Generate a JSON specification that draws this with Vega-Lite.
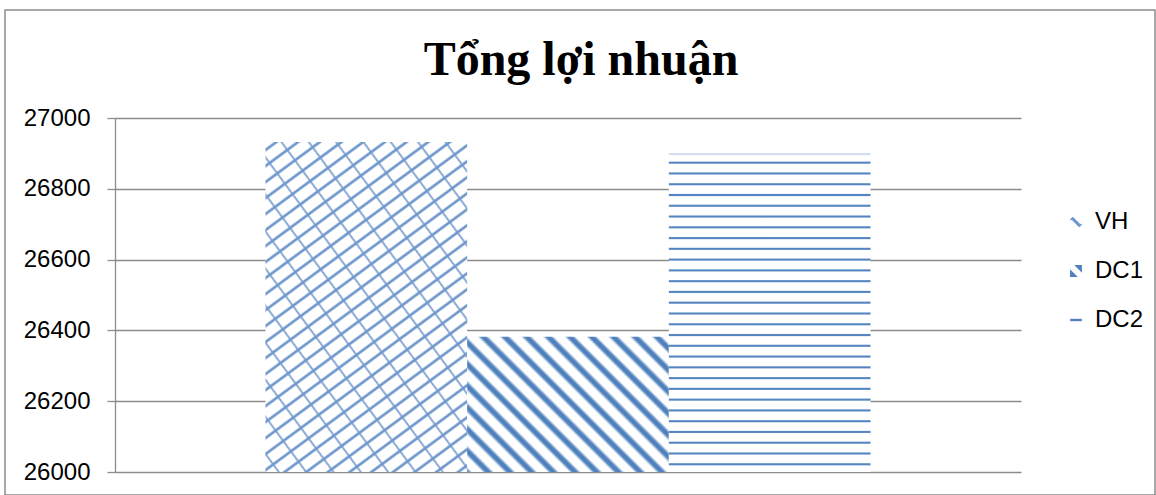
{
  "$schema": "https://vega.github.io/schema/vega-lite/v6.json",
  "autosize": {"type": "none"},
  "padding": {"left": 5, "top": 10, "right": 1, "bottom": 0},
  "width": 1150,
  "height": 485,
  "background": "#ffffff",
  "title": {
    "text": "Tổng lợi nhuận",
    "font": "Liberation Serif",
    "fontSize": 48,
    "fontWeight": "bold",
    "color": "#000000",
    "anchor": "middle",
    "frame": "group",
    "baseline": "alphabetic",
    "offset": -113,
    "dx": 1
  },
  "data": {
    "values": [
      {"series": "VH", "value": 26932},
      {"series": "DC1", "value": 26382},
      {"series": "DC2", "value": 26900}
    ]
  },
  "encoding": {
    "x": {
      "field": "series",
      "type": "nominal",
      "sort": ["VH", "DC1", "DC2"],
      "scale": {"range": [110, 1016], "paddingInner": 0, "paddingOuter": 0.746},
      "axis": null
    },
    "y": {
      "field": "value",
      "type": "quantitative",
      "scale": {"domain": [26000, 27000], "range": [462, 108], "nice": false, "zero": false},
      "axis": {
        "title": null,
        "values": [26000, 26200, 26400, 26600, 26800, 27000],
        "format": "d",
        "offset": -110,
        "domainColor": "#8c8c8c",
        "domainWidth": 1.3,
        "tickColor": "#8c8c8c",
        "tickWidth": 1.3,
        "tickSize": 8,
        "labelPadding": 17,
        "labelFont": "Liberation Sans",
        "labelFontSize": 24,
        "labelColor": "#000000",
        "grid": true,
        "gridColor": "#8c8c8c",
        "gridWidth": 1.4
      }
    }
  },
  "layer": [
    {
      "transform": [{"filter": "datum.series === 'VH'"}],
      "mark": {
        "type": "bar",
        "strokeWidth": 0,
        "fill": {
          "gradient": "linear", "x1": 0, "y1": 0, "x2": 0.5437, "y2": 1.2057,
          "stops": [
            {"offset": 0, "color": "#ffffff"},
            {"offset": 0.0112, "color": "#ffffff"}, {"offset": 0.0152, "color": "#7098cc"}, {"offset": 0.0182, "color": "#7098cc"}, {"offset": 0.0222, "color": "#ffffff"},
            {"offset": 0.0446, "color": "#ffffff"}, {"offset": 0.0486, "color": "#7098cc"}, {"offset": 0.0516, "color": "#7098cc"}, {"offset": 0.0556, "color": "#ffffff"},
            {"offset": 0.0781, "color": "#ffffff"}, {"offset": 0.0821, "color": "#7098cc"}, {"offset": 0.0851, "color": "#7098cc"}, {"offset": 0.0891, "color": "#ffffff"},
            {"offset": 0.1115, "color": "#ffffff"}, {"offset": 0.1155, "color": "#7098cc"}, {"offset": 0.1185, "color": "#7098cc"}, {"offset": 0.1225, "color": "#ffffff"},
            {"offset": 0.1449, "color": "#ffffff"}, {"offset": 0.1489, "color": "#7098cc"}, {"offset": 0.1519, "color": "#7098cc"}, {"offset": 0.1559, "color": "#ffffff"},
            {"offset": 0.1784, "color": "#ffffff"}, {"offset": 0.1824, "color": "#7098cc"}, {"offset": 0.1854, "color": "#7098cc"}, {"offset": 0.1894, "color": "#ffffff"},
            {"offset": 0.2118, "color": "#ffffff"}, {"offset": 0.2158, "color": "#7098cc"}, {"offset": 0.2188, "color": "#7098cc"}, {"offset": 0.2228, "color": "#ffffff"},
            {"offset": 0.2452, "color": "#ffffff"}, {"offset": 0.2492, "color": "#7098cc"}, {"offset": 0.2522, "color": "#7098cc"}, {"offset": 0.2562, "color": "#ffffff"},
            {"offset": 0.2786, "color": "#ffffff"}, {"offset": 0.2826, "color": "#7098cc"}, {"offset": 0.2856, "color": "#7098cc"}, {"offset": 0.2896, "color": "#ffffff"},
            {"offset": 0.3121, "color": "#ffffff"}, {"offset": 0.3161, "color": "#7098cc"}, {"offset": 0.3191, "color": "#7098cc"}, {"offset": 0.3231, "color": "#ffffff"},
            {"offset": 0.3455, "color": "#ffffff"}, {"offset": 0.3495, "color": "#7098cc"}, {"offset": 0.3525, "color": "#7098cc"}, {"offset": 0.3565, "color": "#ffffff"},
            {"offset": 0.3789, "color": "#ffffff"}, {"offset": 0.3829, "color": "#7098cc"}, {"offset": 0.3859, "color": "#7098cc"}, {"offset": 0.3899, "color": "#ffffff"},
            {"offset": 0.4124, "color": "#ffffff"}, {"offset": 0.4164, "color": "#7098cc"}, {"offset": 0.4194, "color": "#7098cc"}, {"offset": 0.4234, "color": "#ffffff"},
            {"offset": 0.4458, "color": "#ffffff"}, {"offset": 0.4498, "color": "#7098cc"}, {"offset": 0.4528, "color": "#7098cc"}, {"offset": 0.4568, "color": "#ffffff"},
            {"offset": 0.4792, "color": "#ffffff"}, {"offset": 0.4832, "color": "#7098cc"}, {"offset": 0.4862, "color": "#7098cc"}, {"offset": 0.4902, "color": "#ffffff"},
            {"offset": 0.5127, "color": "#ffffff"}, {"offset": 0.5167, "color": "#7098cc"}, {"offset": 0.5197, "color": "#7098cc"}, {"offset": 0.5237, "color": "#ffffff"},
            {"offset": 0.5461, "color": "#ffffff"}, {"offset": 0.5501, "color": "#7098cc"}, {"offset": 0.5531, "color": "#7098cc"}, {"offset": 0.5571, "color": "#ffffff"},
            {"offset": 0.5795, "color": "#ffffff"}, {"offset": 0.5835, "color": "#7098cc"}, {"offset": 0.5865, "color": "#7098cc"}, {"offset": 0.5905, "color": "#ffffff"},
            {"offset": 0.6129, "color": "#ffffff"}, {"offset": 0.6169, "color": "#7098cc"}, {"offset": 0.6199, "color": "#7098cc"}, {"offset": 0.6239, "color": "#ffffff"},
            {"offset": 0.6464, "color": "#ffffff"}, {"offset": 0.6504, "color": "#7098cc"}, {"offset": 0.6534, "color": "#7098cc"}, {"offset": 0.6574, "color": "#ffffff"},
            {"offset": 0.6798, "color": "#ffffff"}, {"offset": 0.6838, "color": "#7098cc"}, {"offset": 0.6868, "color": "#7098cc"}, {"offset": 0.6908, "color": "#ffffff"},
            {"offset": 0.7132, "color": "#ffffff"}, {"offset": 0.7172, "color": "#7098cc"}, {"offset": 0.7202, "color": "#7098cc"}, {"offset": 0.7242, "color": "#ffffff"},
            {"offset": 0.7467, "color": "#ffffff"}, {"offset": 0.7507, "color": "#7098cc"}, {"offset": 0.7537, "color": "#7098cc"}, {"offset": 0.7577, "color": "#ffffff"},
            {"offset": 0.7801, "color": "#ffffff"}, {"offset": 0.7841, "color": "#7098cc"}, {"offset": 0.7871, "color": "#7098cc"}, {"offset": 0.7911, "color": "#ffffff"},
            {"offset": 0.8135, "color": "#ffffff"}, {"offset": 0.8175, "color": "#7098cc"}, {"offset": 0.8205, "color": "#7098cc"}, {"offset": 0.8245, "color": "#ffffff"},
            {"offset": 0.8470, "color": "#ffffff"}, {"offset": 0.8510, "color": "#7098cc"}, {"offset": 0.8540, "color": "#7098cc"}, {"offset": 0.8580, "color": "#ffffff"},
            {"offset": 0.8804, "color": "#ffffff"}, {"offset": 0.8844, "color": "#7098cc"}, {"offset": 0.8874, "color": "#7098cc"}, {"offset": 0.8914, "color": "#ffffff"},
            {"offset": 0.9138, "color": "#ffffff"}, {"offset": 0.9178, "color": "#7098cc"}, {"offset": 0.9208, "color": "#7098cc"}, {"offset": 0.9248, "color": "#ffffff"},
            {"offset": 0.9472, "color": "#ffffff"}, {"offset": 0.9512, "color": "#7098cc"}, {"offset": 0.9542, "color": "#7098cc"}, {"offset": 0.9582, "color": "#ffffff"},
            {"offset": 0.9807, "color": "#ffffff"}, {"offset": 0.9847, "color": "#7098cc"}, {"offset": 0.9877, "color": "#7098cc"}, {"offset": 0.9917, "color": "#ffffff"},
            {"offset": 1, "color": "#ffffff"}
          ]
        }
      },
      "encoding": {"y2": {"datum": 26000}}
    },
    {
      "transform": [{"filter": "datum.series === 'VH'"}],
      "mark": {
        "type": "bar",
        "strokeWidth": 0,
        "fill": {
          "gradient": "linear", "x1": 0, "y1": 1, "x2": 0.8987, "y2": -0.0839,
          "stops": [
            {"offset": 0, "color": "rgba(112,152,204,0)"},
            {"offset": 0.0255, "color": "rgba(112,152,204,0)"}, {"offset": 0.0288, "color": "rgba(112,152,204,0.8)"}, {"offset": 0.0312, "color": "rgba(112,152,204,0.8)"}, {"offset": 0.0345, "color": "rgba(112,152,204,0)"},
            {"offset": 0.0869, "color": "rgba(112,152,204,0)"}, {"offset": 0.0902, "color": "rgba(112,152,204,0.8)"}, {"offset": 0.0926, "color": "rgba(112,152,204,0.8)"}, {"offset": 0.0959, "color": "rgba(112,152,204,0)"},
            {"offset": 0.1483, "color": "rgba(112,152,204,0)"}, {"offset": 0.1516, "color": "rgba(112,152,204,0.8)"}, {"offset": 0.1540, "color": "rgba(112,152,204,0.8)"}, {"offset": 0.1573, "color": "rgba(112,152,204,0)"},
            {"offset": 0.2098, "color": "rgba(112,152,204,0)"}, {"offset": 0.2131, "color": "rgba(112,152,204,0.8)"}, {"offset": 0.2155, "color": "rgba(112,152,204,0.8)"}, {"offset": 0.2188, "color": "rgba(112,152,204,0)"},
            {"offset": 0.2712, "color": "rgba(112,152,204,0)"}, {"offset": 0.2745, "color": "rgba(112,152,204,0.8)"}, {"offset": 0.2769, "color": "rgba(112,152,204,0.8)"}, {"offset": 0.2802, "color": "rgba(112,152,204,0)"},
            {"offset": 0.3326, "color": "rgba(112,152,204,0)"}, {"offset": 0.3359, "color": "rgba(112,152,204,0.8)"}, {"offset": 0.3383, "color": "rgba(112,152,204,0.8)"}, {"offset": 0.3416, "color": "rgba(112,152,204,0)"},
            {"offset": 0.3940, "color": "rgba(112,152,204,0)"}, {"offset": 0.3973, "color": "rgba(112,152,204,0.8)"}, {"offset": 0.3997, "color": "rgba(112,152,204,0.8)"}, {"offset": 0.4030, "color": "rgba(112,152,204,0)"},
            {"offset": 0.4554, "color": "rgba(112,152,204,0)"}, {"offset": 0.4587, "color": "rgba(112,152,204,0.8)"}, {"offset": 0.4611, "color": "rgba(112,152,204,0.8)"}, {"offset": 0.4644, "color": "rgba(112,152,204,0)"},
            {"offset": 0.5169, "color": "rgba(112,152,204,0)"}, {"offset": 0.5202, "color": "rgba(112,152,204,0.8)"}, {"offset": 0.5226, "color": "rgba(112,152,204,0.8)"}, {"offset": 0.5259, "color": "rgba(112,152,204,0)"},
            {"offset": 0.5783, "color": "rgba(112,152,204,0)"}, {"offset": 0.5816, "color": "rgba(112,152,204,0.8)"}, {"offset": 0.5840, "color": "rgba(112,152,204,0.8)"}, {"offset": 0.5873, "color": "rgba(112,152,204,0)"},
            {"offset": 0.6397, "color": "rgba(112,152,204,0)"}, {"offset": 0.6430, "color": "rgba(112,152,204,0.8)"}, {"offset": 0.6454, "color": "rgba(112,152,204,0.8)"}, {"offset": 0.6487, "color": "rgba(112,152,204,0)"},
            {"offset": 0.7011, "color": "rgba(112,152,204,0)"}, {"offset": 0.7044, "color": "rgba(112,152,204,0.8)"}, {"offset": 0.7068, "color": "rgba(112,152,204,0.8)"}, {"offset": 0.7101, "color": "rgba(112,152,204,0)"},
            {"offset": 0.7625, "color": "rgba(112,152,204,0)"}, {"offset": 0.7658, "color": "rgba(112,152,204,0.8)"}, {"offset": 0.7682, "color": "rgba(112,152,204,0.8)"}, {"offset": 0.7715, "color": "rgba(112,152,204,0)"},
            {"offset": 0.8240, "color": "rgba(112,152,204,0)"}, {"offset": 0.8273, "color": "rgba(112,152,204,0.8)"}, {"offset": 0.8297, "color": "rgba(112,152,204,0.8)"}, {"offset": 0.8330, "color": "rgba(112,152,204,0)"},
            {"offset": 0.8854, "color": "rgba(112,152,204,0)"}, {"offset": 0.8887, "color": "rgba(112,152,204,0.8)"}, {"offset": 0.8911, "color": "rgba(112,152,204,0.8)"}, {"offset": 0.8944, "color": "rgba(112,152,204,0)"},
            {"offset": 0.9468, "color": "rgba(112,152,204,0)"}, {"offset": 0.9501, "color": "rgba(112,152,204,0.8)"}, {"offset": 0.9525, "color": "rgba(112,152,204,0.8)"}, {"offset": 0.9558, "color": "rgba(112,152,204,0)"},
            {"offset": 1, "color": "rgba(112,152,204,0)"}
          ]
        }
      },
      "encoding": {"y2": {"datum": 26000}}
    },
    {
      "transform": [{"filter": "datum.series === 'DC1'"}],
      "mark": {
        "type": "bar",
        "strokeWidth": 0,
        "fill": {
          "gradient": "linear", "x1": 0, "y1": 1, "x2": 1.1525, "y2": 0.2275,
          "stops": [
            {"offset": 0, "color": "#4f81bd"}, {"offset": 0.0042, "color": "#4f81bd"}, {"offset": 0.0162, "color": "#ffffff"},
            {"offset": 0.0446, "color": "#ffffff"}, {"offset": 0.0566, "color": "#4f81bd"}, {"offset": 0.0686, "color": "#4f81bd"}, {"offset": 0.0806, "color": "#ffffff"},
            {"offset": 0.1090, "color": "#ffffff"}, {"offset": 0.1210, "color": "#4f81bd"}, {"offset": 0.1330, "color": "#4f81bd"}, {"offset": 0.1450, "color": "#ffffff"},
            {"offset": 0.1734, "color": "#ffffff"}, {"offset": 0.1854, "color": "#4f81bd"}, {"offset": 0.1974, "color": "#4f81bd"}, {"offset": 0.2094, "color": "#ffffff"},
            {"offset": 0.2379, "color": "#ffffff"}, {"offset": 0.2499, "color": "#4f81bd"}, {"offset": 0.2619, "color": "#4f81bd"}, {"offset": 0.2739, "color": "#ffffff"},
            {"offset": 0.3023, "color": "#ffffff"}, {"offset": 0.3143, "color": "#4f81bd"}, {"offset": 0.3263, "color": "#4f81bd"}, {"offset": 0.3383, "color": "#ffffff"},
            {"offset": 0.3667, "color": "#ffffff"}, {"offset": 0.3787, "color": "#4f81bd"}, {"offset": 0.3907, "color": "#4f81bd"}, {"offset": 0.4027, "color": "#ffffff"},
            {"offset": 0.4311, "color": "#ffffff"}, {"offset": 0.4431, "color": "#4f81bd"}, {"offset": 0.4551, "color": "#4f81bd"}, {"offset": 0.4671, "color": "#ffffff"},
            {"offset": 0.4955, "color": "#ffffff"}, {"offset": 0.5075, "color": "#4f81bd"}, {"offset": 0.5195, "color": "#4f81bd"}, {"offset": 0.5315, "color": "#ffffff"},
            {"offset": 0.5599, "color": "#ffffff"}, {"offset": 0.5719, "color": "#4f81bd"}, {"offset": 0.5839, "color": "#4f81bd"}, {"offset": 0.5959, "color": "#ffffff"},
            {"offset": 0.6244, "color": "#ffffff"}, {"offset": 0.6364, "color": "#4f81bd"}, {"offset": 0.6484, "color": "#4f81bd"}, {"offset": 0.6604, "color": "#ffffff"},
            {"offset": 0.6888, "color": "#ffffff"}, {"offset": 0.7008, "color": "#4f81bd"}, {"offset": 0.7128, "color": "#4f81bd"}, {"offset": 0.7248, "color": "#ffffff"},
            {"offset": 0.7532, "color": "#ffffff"}, {"offset": 0.7652, "color": "#4f81bd"}, {"offset": 0.7772, "color": "#4f81bd"}, {"offset": 0.7892, "color": "#ffffff"},
            {"offset": 0.8176, "color": "#ffffff"}, {"offset": 0.8296, "color": "#4f81bd"}, {"offset": 0.8416, "color": "#4f81bd"}, {"offset": 0.8536, "color": "#ffffff"},
            {"offset": 0.8820, "color": "#ffffff"}, {"offset": 0.8940, "color": "#4f81bd"}, {"offset": 0.9060, "color": "#4f81bd"}, {"offset": 0.9180, "color": "#ffffff"},
            {"offset": 0.9464, "color": "#ffffff"}, {"offset": 0.9584, "color": "#4f81bd"}, {"offset": 0.9704, "color": "#4f81bd"}, {"offset": 0.9824, "color": "#ffffff"},
            {"offset": 1, "color": "#ffffff"}
          ]
        }
      },
      "encoding": {"y2": {"datum": 26000}}
    },
    {
      "transform": [{"filter": "datum.series === 'DC2'"}],
      "mark": {
        "type": "bar",
        "strokeWidth": 0,
        "fill": {
          "gradient": "linear", "x1": 0, "y1": 0, "x2": 0, "y2": 1,
          "stops": [
            {"offset": 0, "color": "#a9c0df"}, {"offset": 0.003, "color": "#c9d7ea"}, {"offset": 0.007, "color": "#ffffff"},
            {"offset": 0.0242, "color": "#ffffff"}, {"offset": 0.0276, "color": "#5585c0"}, {"offset": 0.0308, "color": "#5585c0"}, {"offset": 0.0342, "color": "#ffffff"},
            {"offset": 0.0580, "color": "#ffffff"}, {"offset": 0.0614, "color": "#5585c0"}, {"offset": 0.0646, "color": "#5585c0"}, {"offset": 0.0680, "color": "#ffffff"},
            {"offset": 0.0918, "color": "#ffffff"}, {"offset": 0.0952, "color": "#5585c0"}, {"offset": 0.0984, "color": "#5585c0"}, {"offset": 0.1018, "color": "#ffffff"},
            {"offset": 0.1256, "color": "#ffffff"}, {"offset": 0.1290, "color": "#5585c0"}, {"offset": 0.1322, "color": "#5585c0"}, {"offset": 0.1356, "color": "#ffffff"},
            {"offset": 0.1594, "color": "#ffffff"}, {"offset": 0.1628, "color": "#5585c0"}, {"offset": 0.1660, "color": "#5585c0"}, {"offset": 0.1694, "color": "#ffffff"},
            {"offset": 0.1932, "color": "#ffffff"}, {"offset": 0.1966, "color": "#5585c0"}, {"offset": 0.1998, "color": "#5585c0"}, {"offset": 0.2032, "color": "#ffffff"},
            {"offset": 0.2270, "color": "#ffffff"}, {"offset": 0.2304, "color": "#5585c0"}, {"offset": 0.2336, "color": "#5585c0"}, {"offset": 0.2370, "color": "#ffffff"},
            {"offset": 0.2608, "color": "#ffffff"}, {"offset": 0.2642, "color": "#5585c0"}, {"offset": 0.2674, "color": "#5585c0"}, {"offset": 0.2708, "color": "#ffffff"},
            {"offset": 0.2946, "color": "#ffffff"}, {"offset": 0.2980, "color": "#5585c0"}, {"offset": 0.3012, "color": "#5585c0"}, {"offset": 0.3046, "color": "#ffffff"},
            {"offset": 0.3284, "color": "#ffffff"}, {"offset": 0.3318, "color": "#5585c0"}, {"offset": 0.3350, "color": "#5585c0"}, {"offset": 0.3384, "color": "#ffffff"},
            {"offset": 0.3622, "color": "#ffffff"}, {"offset": 0.3656, "color": "#5585c0"}, {"offset": 0.3688, "color": "#5585c0"}, {"offset": 0.3722, "color": "#ffffff"},
            {"offset": 0.3960, "color": "#ffffff"}, {"offset": 0.3994, "color": "#5585c0"}, {"offset": 0.4026, "color": "#5585c0"}, {"offset": 0.4060, "color": "#ffffff"},
            {"offset": 0.4298, "color": "#ffffff"}, {"offset": 0.4332, "color": "#5585c0"}, {"offset": 0.4364, "color": "#5585c0"}, {"offset": 0.4398, "color": "#ffffff"},
            {"offset": 0.4636, "color": "#ffffff"}, {"offset": 0.4670, "color": "#5585c0"}, {"offset": 0.4702, "color": "#5585c0"}, {"offset": 0.4736, "color": "#ffffff"},
            {"offset": 0.4975, "color": "#ffffff"}, {"offset": 0.5009, "color": "#5585c0"}, {"offset": 0.5041, "color": "#5585c0"}, {"offset": 0.5075, "color": "#ffffff"},
            {"offset": 0.5313, "color": "#ffffff"}, {"offset": 0.5347, "color": "#5585c0"}, {"offset": 0.5379, "color": "#5585c0"}, {"offset": 0.5413, "color": "#ffffff"},
            {"offset": 0.5651, "color": "#ffffff"}, {"offset": 0.5685, "color": "#5585c0"}, {"offset": 0.5717, "color": "#5585c0"}, {"offset": 0.5751, "color": "#ffffff"},
            {"offset": 0.5989, "color": "#ffffff"}, {"offset": 0.6023, "color": "#5585c0"}, {"offset": 0.6055, "color": "#5585c0"}, {"offset": 0.6089, "color": "#ffffff"},
            {"offset": 0.6327, "color": "#ffffff"}, {"offset": 0.6361, "color": "#5585c0"}, {"offset": 0.6393, "color": "#5585c0"}, {"offset": 0.6427, "color": "#ffffff"},
            {"offset": 0.6665, "color": "#ffffff"}, {"offset": 0.6699, "color": "#5585c0"}, {"offset": 0.6731, "color": "#5585c0"}, {"offset": 0.6765, "color": "#ffffff"},
            {"offset": 0.7003, "color": "#ffffff"}, {"offset": 0.7037, "color": "#5585c0"}, {"offset": 0.7069, "color": "#5585c0"}, {"offset": 0.7103, "color": "#ffffff"},
            {"offset": 0.7341, "color": "#ffffff"}, {"offset": 0.7375, "color": "#5585c0"}, {"offset": 0.7407, "color": "#5585c0"}, {"offset": 0.7441, "color": "#ffffff"},
            {"offset": 0.7679, "color": "#ffffff"}, {"offset": 0.7713, "color": "#5585c0"}, {"offset": 0.7745, "color": "#5585c0"}, {"offset": 0.7779, "color": "#ffffff"},
            {"offset": 0.8017, "color": "#ffffff"}, {"offset": 0.8051, "color": "#5585c0"}, {"offset": 0.8083, "color": "#5585c0"}, {"offset": 0.8117, "color": "#ffffff"},
            {"offset": 0.8355, "color": "#ffffff"}, {"offset": 0.8389, "color": "#5585c0"}, {"offset": 0.8421, "color": "#5585c0"}, {"offset": 0.8455, "color": "#ffffff"},
            {"offset": 0.8693, "color": "#ffffff"}, {"offset": 0.8727, "color": "#5585c0"}, {"offset": 0.8759, "color": "#5585c0"}, {"offset": 0.8793, "color": "#ffffff"},
            {"offset": 0.9031, "color": "#ffffff"}, {"offset": 0.9065, "color": "#5585c0"}, {"offset": 0.9097, "color": "#5585c0"}, {"offset": 0.9131, "color": "#ffffff"},
            {"offset": 0.9369, "color": "#ffffff"}, {"offset": 0.9403, "color": "#5585c0"}, {"offset": 0.9435, "color": "#5585c0"}, {"offset": 0.9469, "color": "#ffffff"},
            {"offset": 0.9707, "color": "#ffffff"}, {"offset": 0.9741, "color": "#5585c0"}, {"offset": 0.9773, "color": "#5585c0"}, {"offset": 0.9807, "color": "#ffffff"},
            {"offset": 1, "color": "#ffffff"}
          ]
        }
      },
      "encoding": {"y2": {"datum": 26000}}
    },
    {
      "mark": {"type": "point", "filled": true, "size": 0, "strokeWidth": 0},
      "encoding": {
        "color": {
          "field": "series",
          "type": "nominal",
          "sort": ["VH", "DC1", "DC2"],
          "scale": {"domain": ["VH", "DC1", "DC2"], "range": ["#7098cc", "#4f81bd", "#4f81bd"]},
          "legend": {
            "title": null,
            "orient": "none",
            "legendX": 1059,
            "legendY": 200,
            "padding": 0,
            "symbolSize": 140,
            "symbolStrokeWidth": 0,
            "symbolOpacity": 1,
            "labelOffset": 7,
            "rowPadding": 25,
            "labelFont": "Liberation Sans",
            "labelFontSize": 24,
            "labelColor": "#000000"
          }
        },
        "shape": {
          "field": "series",
          "type": "nominal",
          "sort": ["VH", "DC1", "DC2"],
          "scale": {
            "domain": ["VH", "DC1", "DC2"],
            "range": [
              "M-1,-0.45L-0.55,-0.9L-0.35,-0.7L0.75,0.4L0.95,0.25L1,0.45L0.55,0.9L0.35,0.7L-0.75,-0.4L-0.95,-0.25Z",
              "M-0.3,-1H1V0.3Z M-1,-0.3V1H0.3Z",
              "M-1,-0.2H1V0.2H-1Z"
            ]
          },
          "legend": {
            "title": null,
            "orient": "none",
            "legendX": 1059,
            "legendY": 200,
            "padding": 0,
            "symbolSize": 140,
            "symbolStrokeWidth": 0,
            "symbolOpacity": 1,
            "labelOffset": 7,
            "rowPadding": 25,
            "labelFont": "Liberation Sans",
            "labelFontSize": 24,
            "labelColor": "#000000"
          }
        }
      }
    }
  ],
  "config": {
    "view": {"stroke": "#8c8c8c", "strokeWidth": 1.5},
    "font": "Liberation Sans"
  }
}
